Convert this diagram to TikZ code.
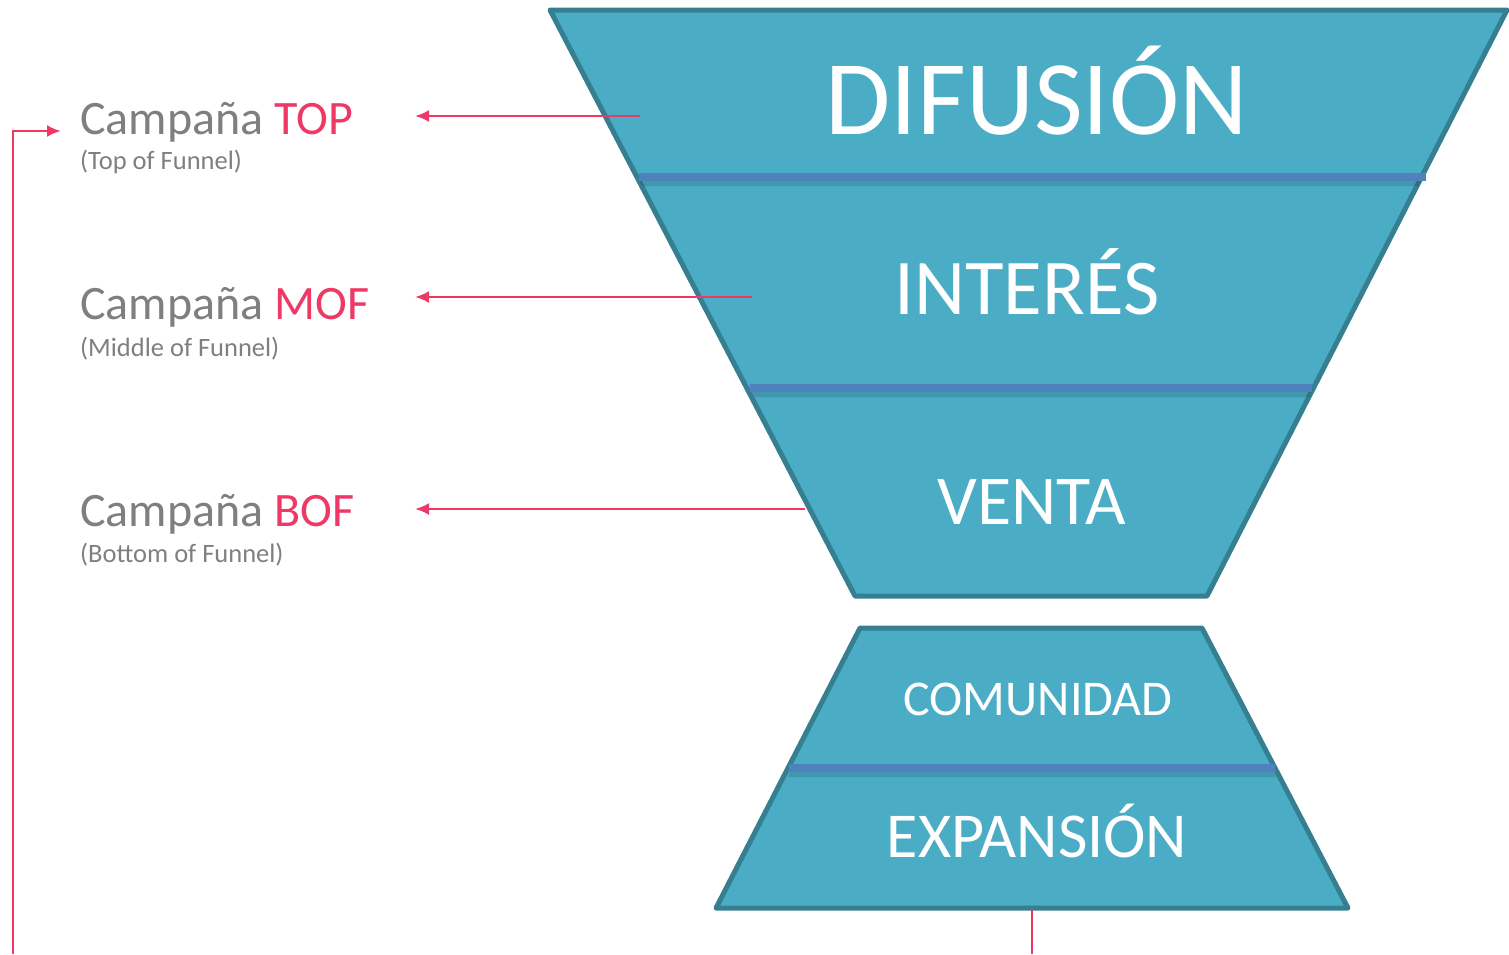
\documentclass[tikz,border=0pt]{standalone}
\usepackage{fontspec}
\setmainfont{Carlito}
\usetikzlibrary{arrows.meta}
\definecolor{funfill}{HTML}{4BACC6}
\definecolor{funline}{HTML}{357F91}
\definecolor{divline}{HTML}{4F81BD}
\definecolor{pinkc}{HTML}{EE3866}
\definecolor{grayc}{HTML}{7F7F7F}
\tikzset{
  stage/.style={fill=funfill,draw=funline,line width=5pt,line join=round},
  divider/.style={draw=divline,line width=8pt},
  shadowband/.style={fill=black,opacity=0.12},
  stagetext/.style={text=white,inner sep=0pt,anchor=base},
  camp/.style={text=grayc,anchor=base west,inner sep=0pt,font=\fontsize{48}{54}\selectfont},
  campsub/.style={text=grayc,anchor=base west,inner sep=0pt,font=\fontsize{26.5}{30}\selectfont},
  link/.style={draw=pinkc,line width=2.5pt,-{Latex[length=14pt,width=12pt]}},
  plainlink/.style={draw=pinkc,line width=2.5pt},
}
\begin{document}
\begin{tikzpicture}[x=1pt,y=-1pt]
\useasboundingbox (0,0) rectangle (1509,954);
% upper funnel
\path[stage] (550,10) -- (1507,10) -- (1207,596) -- (855,596) -- cycle;
\path[shadowband] (640,181) -- (1421,181) -- (1419,186) -- (642,186) -- cycle;
\path[shadowband] (752,392) -- (1311,392) -- (1309,397) -- (754,397) -- cycle;
\draw[divider] (639,177) -- (1426,177);
\draw[divider] (750,388) -- (1312,388);
% lower funnel
\path[stage] (860,628) -- (1202,628) -- (1348,908) -- (716,908) -- cycle;
\path[shadowband] (790,772) -- (1274,772) -- (1276,777) -- (788,777) -- cycle;
\draw[divider] (789,768) -- (1275,768);
% stage labels
\node[stagetext,font=\fontsize{106}{112}\selectfont] (dif) at (1037,134) {DIFUSIÓN};
\node[stagetext,font=\fontsize{79}{84}\selectfont] (int) at (1027,314) {INTERÉS};
\node[stagetext,font=\fontsize{70}{76}\selectfont] (ven) at (1032,524) {VENTA};
\node[stagetext,font=\fontsize{50}{56}\selectfont] (com) at (1038,715) {COMUNIDAD};
\node[stagetext,font=\fontsize{64}{70}\selectfont] (exp) at (1037,857) {EXPANSIÓN};
% left labels
\node[camp] (top) at (80,134) {Campaña \textcolor{pinkc}{TOP}};
\node[campsub] (topsub) at (80,169) {(Top of Funnel)};
\node[camp] (mof) at (80,319) {Campaña \textcolor{pinkc}{MOF}};
\node[campsub] (mofsub) at (80,356) {(Middle of Funnel)};
\node[camp] (bof) at (80,526) {Campaña \textcolor{pinkc}{BOF}};
\node[campsub] (bofsub) at (80,562) {(Bottom of Funnel)};
% arrows
\coordinate (t1) at (640,116); \coordinate (t2) at (415,116);
\coordinate (m1) at (752,297); \coordinate (m2) at (415,297);
\coordinate (b1) at (805,509); \coordinate (b2) at (415,509);
\draw[link] (t1) -- (t2);
\draw[link] (m1) -- (m2);
\draw[link] (b1) -- (b2);
\coordinate (expbot) at (1032,910);
\coordinate (edgeR) at (1032,954);
\coordinate (edgeL) at (13,954);
\coordinate (loopin) at (61,131);
\draw[plainlink] (expbot) -- (edgeR);
\draw[link] (edgeL) |- (loopin);
\end{tikzpicture}
\end{document}
